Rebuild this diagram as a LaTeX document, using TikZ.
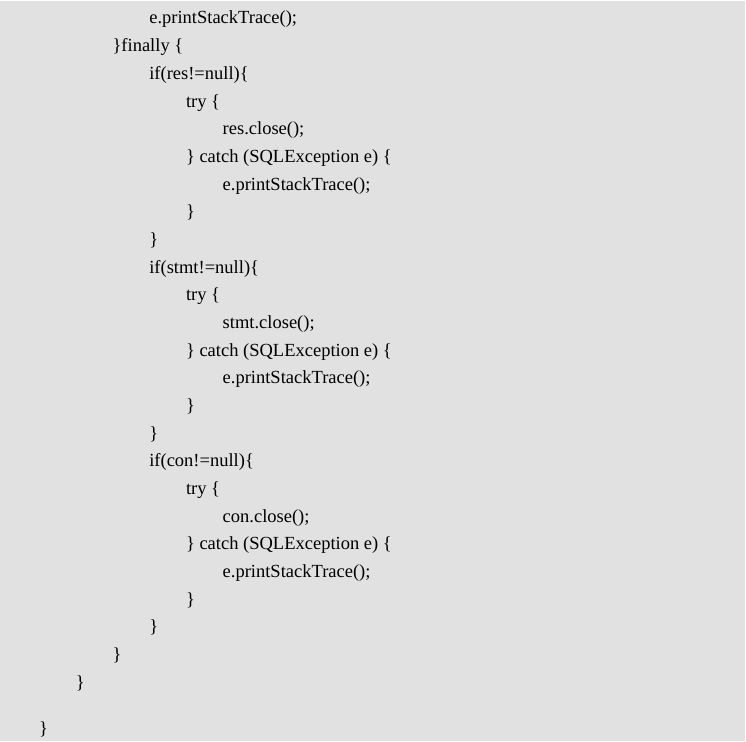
\documentclass[tikz,border=0pt]{standalone}
\usepackage{fontspec}
\setmainfont{Liberation Serif}
\definecolor{codebg}{RGB}{225,225,225}
\begin{document}
\begin{tikzpicture}[x=1pt,y=-1pt]
  \tikzset{
    codeline/.style = {anchor=base west, inner sep=0pt,
      font=\fontsize{18.5}{22}\selectfont},
  }
  \useasboundingbox (0,0) rectangle (746,741);
  \fill[codebg] (0,1) rectangle (745,741);

  % indent level / line number / text
  \foreach \lvl/\n/\txt in {
    3/1/e.printStackTrace();,
    2/2/\}finally \{,
    3/3/if(res!=null)\{,
    4/4/try \{,
    5/5/res.close();,
    4/6/\} catch (SQLException e) \{,
    5/7/e.printStackTrace();,
    4/8/\},
    3/9/\},
    3/10/if(stmt!=null)\{,
    4/11/try \{,
    5/12/stmt.close();,
    4/13/\} catch (SQLException e) \{,
    5/14/e.printStackTrace();,
    4/15/\},
    3/16/\},
    3/17/if(con!=null)\{,
    4/18/try \{,
    5/19/con.close();,
    4/20/\} catch (SQLException e) \{,
    5/21/e.printStackTrace();,
    4/22/\},
    3/23/\},
    2/24/\},
    1/25/\}}
  \node[codeline] (line\n) at ({39+36.7*\lvl},{24+27.67*(\n-1)}) {\txt};

  % closing brace after the blank line
  \node[codeline] (line27) at (39,734) {\}};
\end{tikzpicture}
\end{document}
